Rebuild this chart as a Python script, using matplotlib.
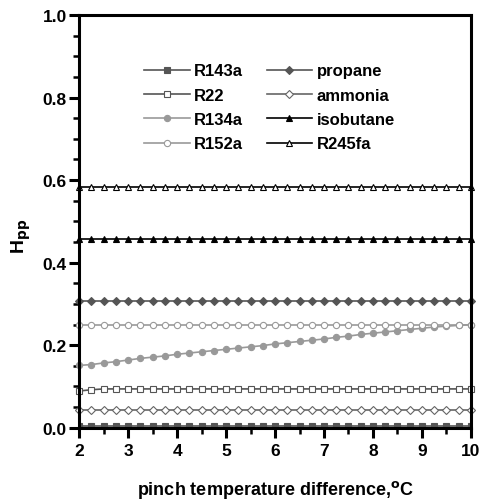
import matplotlib
matplotlib.use("Agg")
import matplotlib.pyplot as plt
from matplotlib.ticker import MultipleLocator

plt.rcParams['font.family'] = ['Liberation Sans', 'DejaVu Sans']
plt.rcParams['font.weight'] = 'bold'
plt.rcParams['mathtext.default'] = 'bf'

# pinch temperature difference, step 0.25
dt = [2.0, 2.25, 2.5, 2.75, 3.0, 3.25, 3.5, 3.75, 4.0, 4.25, 4.5, 4.75,
      5.0, 5.25, 5.5, 5.75, 6.0, 6.25, 6.5, 6.75, 7.0, 7.25, 7.5, 7.75,
      8.0, 8.25, 8.5, 8.75, 9.0, 9.25, 9.5, 9.75, 10.0]
n = len(dt)

r143a = [0.003] * n
r22 = [0.089, 0.092, 0.094] + [0.094] * (n - 3)
r134a = [0.151, 0.153, 0.157, 0.160, 0.164, 0.168, 0.171, 0.174, 0.178,
         0.181, 0.184, 0.187, 0.190, 0.193, 0.196, 0.199, 0.203, 0.206,
         0.209, 0.212, 0.215, 0.219, 0.222, 0.226, 0.229, 0.232, 0.235,
         0.238, 0.241, 0.244, 0.246, 0.248, 0.250]
r152a = [0.249] * n
propane = [0.307] * n
ammonia = [0.044] * n
isobutane = [0.457] * n
r245fa = [0.583] * n

series = [
    ("R143a", r143a, '#555555', 's', '#555555'),
    ("R22", r22, '#555555', 's', 'white'),
    ("R134a", r134a, '#999999', 'o', '#999999'),
    ("R152a", r152a, '#999999', 'o', 'white'),
    ("propane", propane, '#555555', 'D', '#555555'),
    ("ammonia", ammonia, '#666666', 'D', 'white'),
    ("isobutane", isobutane, 'black', '^', 'black'),
    ("R245fa", r245fa, 'black', '^', 'white'),
]

fig = plt.figure(figsize=(4.8, 5.02), dpi=100)
ax = fig.add_axes([0.165, 0.146, 0.816, 0.822])

for name, vals, col, mk, fc in series:
    ms = 4 if mk == 'D' else 4.5
    ax.plot(dt, vals, color=col, marker=mk, markerfacecolor=fc,
            markeredgecolor=col, markersize=ms, markeredgewidth=0.8,
            linewidth=1.2, label=name, clip_on=(name == "R143a"))

ax.set_xlim(2, 10)
ax.set_ylim(0, 1.0)
ax.xaxis.set_major_locator(MultipleLocator(1))
ax.xaxis.set_minor_locator(MultipleLocator(0.5))
ax.yaxis.set_major_locator(MultipleLocator(0.2))
ax.yaxis.set_minor_locator(MultipleLocator(0.05))
ax.tick_params(which='major', direction='out', length=7, width=2.2,
               labelsize=12.5, top=False, right=False)
ax.tick_params(axis='y', which='major', pad=2)
ax.tick_params(axis='x', which='major', pad=4)
ax.tick_params(which='minor', direction='out', length=4, width=1.8,
               top=False, right=False)
for lab in ax.get_xticklabels() + ax.get_yticklabels():
    lab.set_fontweight('bold')
for s in ax.spines.values():
    s.set_linewidth(2.2)

ax.set_xlabel('pinch temperature difference,$^{o}$C', fontsize=13,
              fontweight='bold')
ax.xaxis.set_label_coords(0.5, -0.122)
ax.set_ylabel('H$_{pp}$', fontsize=14, fontweight='bold')
ax.yaxis.set_label_coords(-0.118, 0.467)

ax.legend(ncol=2, frameon=False, loc='upper left', bbox_to_anchor=(0.166, 0.883),
          borderpad=0, borderaxespad=0, handlelength=2.75, handletextpad=0.25,
          columnspacing=1.4, labelspacing=0.56, prop={'weight': 'bold', 'size': 12})

fig.savefig('out.png', dpi=100)
